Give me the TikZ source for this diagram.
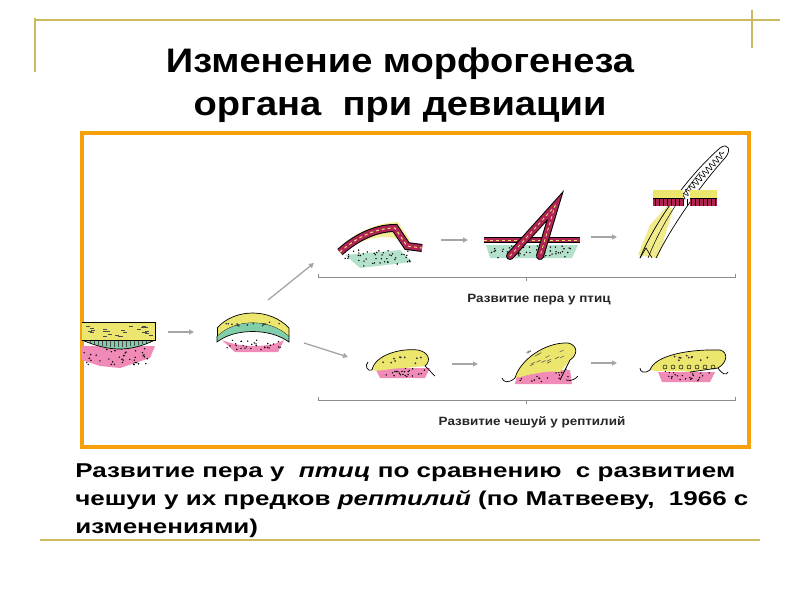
\documentclass[tikz,border=0pt]{standalone}
\usepackage{fontspec}
\setmainfont{Liberation Sans}
\usetikzlibrary{arrows.meta,decorations.pathmorphing}
\definecolor{gold}{RGB}{205,185,95}
\definecolor{frame}{RGB}{246,160,10}
\definecolor{yel}{RGB}{236,230,110}
\definecolor{grn}{RGB}{130,205,170}
\definecolor{pnk}{RGB}{232,90,150}
\definecolor{mag}{RGB}{175,35,85}
\definecolor{garr}{RGB}{165,165,165}
\tikzset{
  gline/.style={draw=gold,line width=1.2pt},
  garrow/.style={draw=garr,line width=1.3pt,-{Triangle[length=5pt,width=5pt]}},
  tis/.style={draw=black,line width=0.7pt},
  lbl/.style={font=\bfseries\fontsize{12}{14}\selectfont,text=black!85,xscale=1.12},
  brace/.style={draw=black!45,line width=1pt},
  capline/.style={anchor=base west,inner sep=0pt,font=\bfseries\fontsize{20}{24}\selectfont,xscale=1.3}
}
\begin{document}
\begin{tikzpicture}[x=1pt,y=-1pt]
\pgfmathsetseed{7}
\useasboundingbox (0,0) rectangle (800,600);
\fill[white] (0,0) rectangle (800,600);
% slide decoration
\draw[gline] (35,20) -- (780,20);
\draw[gline] (35,18) -- (35,72);
\draw[gline] (752,10) -- (752,48);
\draw[gline] (40,540) -- (760,540);
% title
\node[font=\bfseries\fontsize{34}{40}\selectfont,anchor=base,xscale=1.12,inner sep=0pt] (t1) at (400,72) {Изменение морфогенеза};
\node[font=\bfseries\fontsize{34}{40}\selectfont,anchor=base,xscale=1.12,inner sep=0pt] (t2) at (400,115) {органа \ при девиации};
% frame
\draw[frame,line width=4pt] (82,133) rectangle (749,447);
% ---------- left block
\fill[pnk!70] (82,346) -- (155,346) -- (150,358) -- (120,368) -- (100,366) -- (82,360) -- cycle;
\pgfmathsetseed{3}
\foreach \i in {1,...,40}{\fill[black] ({84+rnd*66},{348+rnd*17}) circle (0.8);}
\fill[grn] (82,340) .. controls (110,352) and (130,352) .. (155,340) -- cycle;
\draw[tis] (82,340) .. controls (110,352) and (130,352) .. (155,340);
\foreach \x in {86,90,...,152}{\draw[black!70,line width=0.4pt] (\x,341) -- (\x,{341+6*sin((\x-82)/73*180)});}
\fill[yel] (82,322) rectangle (155,340);
\draw[tis] (82,322) -- (155,322) -- (155,340) -- (82,340);
\foreach \i in {1,...,25}{\draw[black!70,line width=0.6pt] ({84+rnd*66},{325+rnd*12}) -- ++(4,0);}
% arrow
\coordinate (a1s) at (168,332); \coordinate (a1e) at (194,332);
\draw[garrow] (a1s) -- (a1e);
% ---------- second block (dome)
\fill[pnk!70] (222,340) .. controls (240,348) and (270,348) .. (284,340) -- (278,352) -- (235,352) -- cycle;
\foreach \i in {1,...,30}{\fill[black] ({226+rnd*55},{340+rnd*11}) circle (0.8);}
\fill[grn] (217,336) .. controls (235,318) and (270,318) .. (289,336) -- (289,342)
  .. controls (270,328) and (235,328) .. (217,342) -- cycle;
\draw[tis] (217,336) .. controls (235,318) and (270,318) .. (289,336) -- (289,342)
  .. controls (270,328) and (235,328) .. (217,342) -- cycle;
\fill[yel] (217,328) .. controls (235,308) and (270,308) .. (289,328) -- (289,336)
  .. controls (270,318) and (235,318) .. (217,336) -- cycle;
\draw[tis] (217,328) .. controls (235,308) and (270,308) .. (289,328) -- (289,336);
\draw[tis] (217,328) -- (217,336);
\foreach \i in {1,...,14}{\fill[black!80] ({225+rnd*58},{322+rnd*4}) circle (0.9);}
% branching arrows
\coordinate (aus) at (268,300); \coordinate (aue) at (314,263);
\draw[garrow] (aus) -- (aue);
\coordinate (ads) at (304,343); \coordinate (ade) at (348,357);
\draw[garrow] (ads) -- (ade);
% ---------- feather row stage 1
\fill[grn!60] (345,255) -- (400,250) -- (412,262) -- (360,268) -- cycle;
\foreach \i in {1,...,45}{\fill[black] ({345+rnd*65},{250+rnd*16}) circle (0.8);}
\fill[yel!70] (340,247) .. controls (360,228) and (385,222) .. (398,222) -- (410,240) -- (405,242) .. controls (385,232) and (360,238) .. (342,255) -- cycle;
\draw[black,line width=8pt] (340,252) .. controls (360,234) and (380,228) .. (395,228) -- (407,246) -- (422,248);
\draw[mag,line width=6pt] (340,252) .. controls (360,234) and (380,228) .. (395,228) -- (407,246) -- (422,248);
\draw[yel,line width=1pt,dashed] (340,252) .. controls (360,234) and (380,228) .. (395,228) -- (407,246) -- (422,248);
\coordinate (f1s) at (441,240); \coordinate (f1e) at (468,240);
\draw[garrow] (f1s) -- (f1e);
% ---------- feather row stage 2
\fill[grn!60] (486,245) -- (578,245) -- (572,258) -- (490,258) -- cycle;
\foreach \i in {1,...,45}{\fill[black] ({488+rnd*85},{246+rnd*12}) circle (0.8);}
\draw[black,line width=6pt] (484,240) -- (580,240);
\draw[mag,line width=4pt] (484,240) -- (580,240);
\draw[yel,line width=0.8pt,dashed] (484,240) -- (580,240);
\draw[black,line width=8pt,line cap=round] (510,256) -- (555,206) -- (540,256);
\draw[mag,line width=6pt,line cap=round] (510,256) -- (555,206) -- (540,256);
\draw[yel,line width=0.8pt,dashed] (510,256) -- (555,206) -- (540,256);
\coordinate (f2s) at (591,237); \coordinate (f2e) at (617,237);
\draw[garrow] (f2s) -- (f2e);
% ---------- feather row stage 3
\fill[yel!80] (638,255) -- (650,225) -- (668,205) -- (673,210) -- (658,258) -- cycle;
\draw[black,line width=0.7pt] (640,258) .. controls (660,210) and (700,165) .. (720,148)
  .. controls (728,142) and (732,150) .. (725,158) .. controls (705,180) and (675,220) .. (656,258);
\draw[black,line width=0.5pt] (648,258) .. controls (665,215) and (690,185) .. (700,172);
\draw[black,line width=0.6pt,decorate,decoration={snake,amplitude=3pt,segment length=5pt}] (680,200) -- (724,152);
\draw[black,line width=0.6pt] (640,258) -- (646,248) -- (652,258);
\fill[yel] (653,190) rectangle (683,198);\fill[yel] (690,190) rectangle (717,198);
\fill[mag] (653,198) rectangle (683,206);\fill[mag] (690,198) rectangle (717,206);
\draw[tis] (653,198) -- (683,198); \draw[tis] (690,198) -- (717,198);
\foreach \x in {655,659,...,715}{\draw[black,line width=0.4pt] (\x,199) -- (\x,206);}
% labels & braces
\coordinate (b1l) at (318,277); \coordinate (b1r) at (735,277);
\draw[brace] (b1l) -- ++(0,-3) (b1l) -- (b1r) -- ++(0,-3);
\draw[brace] (526,277) -- (526,281);
\node[lbl] (l1) at (539,300) {Развитие пера у птиц};
\coordinate (b2l) at (318,400); \coordinate (b2r) at (735,400);
\draw[brace] (b2l) -- ++(0,-3) (b2l) -- (b2r) -- ++(0,-3);
\draw[brace] (526,400) -- (526,404);
\node[lbl] (l2) at (532,422) {Развитие чешуй у рептилий};
% ---------- scale row stage 1
\fill[pnk!70] (375,368) -- (430,368) -- (425,378) -- (380,378) -- cycle;
\foreach \i in {1,...,25}{\fill[black] ({378+rnd*48},{366+rnd*11}) circle (0.8);}
\fill[yel] (372,370) .. controls (375,355) and (400,348) .. (418,350) .. controls (428,352) and (432,360) .. (425,366) -- (405,368) .. controls (390,368) and (380,372) .. (372,370) -- cycle;
\draw[tis] (372,370) .. controls (375,355) and (400,348) .. (418,350) .. controls (428,352) and (432,360) .. (425,366);
\foreach \i in {1,...,10}{\fill[black!80] ({382+rnd*40},{356+rnd*9}) circle (1);}
\draw[tis] (372,370) .. controls (368,372) and (364,366) .. (368,362);
\draw[tis] (425,366) .. controls (430,370) and (432,374) .. (435,376);
\coordinate (s1s) at (452,364); \coordinate (s1e) at (478,364);
\draw[garrow] (s1s) -- (s1e);
% ---------- scale row stage 2
\fill[pnk!70] (518,370) -- (570,370) -- (572,384) -- (515,384) -- cycle;
\foreach \i in {1,...,25}{\fill[black] ({520+rnd*48},{368+rnd*14}) circle (0.8);}
\fill[yel] (515,378) .. controls (520,360) and (545,342) .. (568,343) .. controls (578,345) and (578,355) .. (570,360) -- (560,372) .. controls (545,370) and (530,375) .. (515,378) -- cycle;
\draw[tis] (515,378) .. controls (520,360) and (545,342) .. (568,343) .. controls (578,345) and (578,355) .. (570,360) -- (560,380);
\foreach \i in {1,...,14}{\draw[black!70,line width=0.5pt] ({525+rnd*40},{352+rnd*14}) -- ++(4,-2);}
\draw[tis] (515,378) .. controls (508,384) and (503,382) .. (502,378);
\draw[tis] (566,380) .. controls (572,382) and (576,378) .. (578,376);
\coordinate (s2s) at (591,363); \coordinate (s2e) at (617,363);
\draw[garrow] (s2s) -- (s2e);
% ---------- scale row stage 3
\fill[pnk!70] (658,372) -- (715,372) -- (710,382) -- (662,382) -- cycle;
\foreach \i in {1,...,25}{\fill[black] ({660+rnd*52},{370+rnd*11}) circle (0.8);}
\fill[yel] (650,370) .. controls (655,355) and (690,349) .. (720,350) .. controls (728,352) and (728,362) .. (718,368) -- (690,372) .. controls (675,370) and (660,372) .. (650,370) -- cycle;
\draw[tis] (650,370) .. controls (655,355) and (690,349) .. (720,350) .. controls (728,352) and (728,362) .. (718,368) -- (690,372);
\foreach \x in {665,673,...,713}{\draw[black,line width=0.5pt] (\x,367) circle (2);}
\foreach \i in {1,...,10}{\fill[black!80] ({665+rnd*50},{355+rnd*6}) circle (1);}
\draw[tis] (650,370) .. controls (644,374) and (640,372) .. (640,368);
\draw[tis] (718,368) .. controls (722,374) and (726,376) .. (728,372);
% caption
\node[capline] (c1) at (75,477) {Развитие пера у \ \textit{птиц} по сравнению \ с развитием};
\node[capline] (c2) at (75,505) {чешуи у их предков \textit{рептилий} (по Матвееву, \ 1966 с};
\node[capline] (c3) at (75,533) {изменениями)};
\end{tikzpicture}
\end{document}
